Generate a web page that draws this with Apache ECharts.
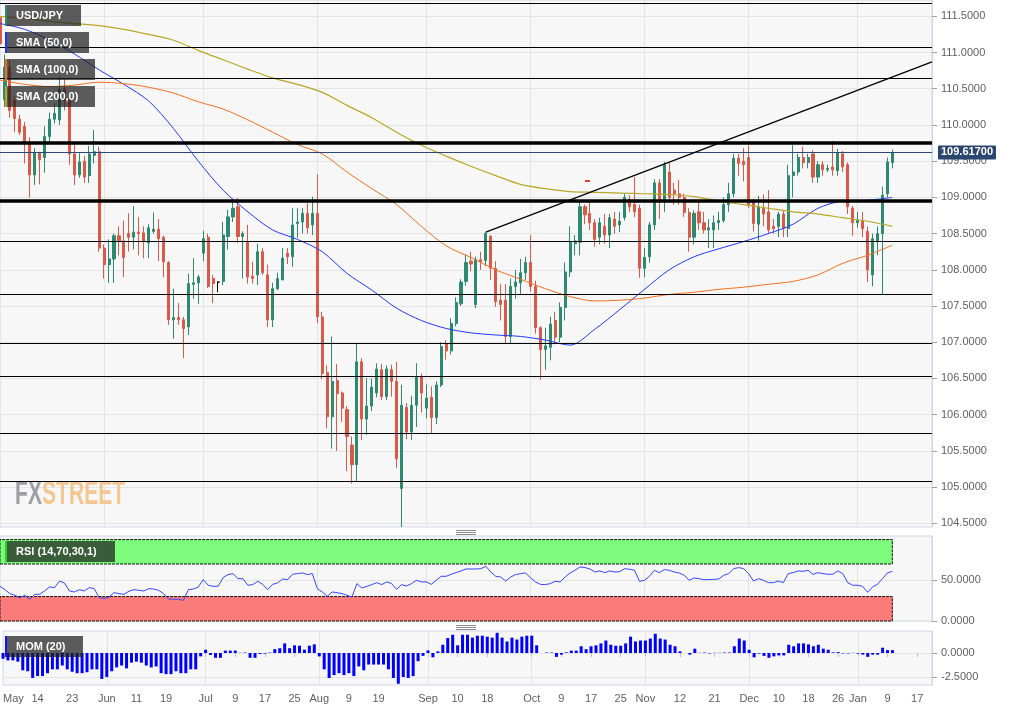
<!DOCTYPE html>
<html>
<head>
<meta charset="utf-8">
<script src="https://cdn.jsdelivr.net/npm/echarts@6/dist/echarts.min.js"></script>
<style>
html,body{margin:0;padding:0;background:#fff;}
#chart{width:1016px;height:711px;}
</style>
</head>
<body>
<div id="chart"></div>
<script>
// ---------- categories (trading days) ----------
const dates = [
'2019-05-03','2019-05-06','2019-05-07','2019-05-08','2019-05-09','2019-05-10','2019-05-13','2019-05-14','2019-05-15','2019-05-16','2019-05-17','2019-05-20','2019-05-21','2019-05-22','2019-05-23','2019-05-24','2019-05-27','2019-05-28','2019-05-29','2019-05-30','2019-05-31',
'2019-06-03','2019-06-04','2019-06-05','2019-06-06','2019-06-07','2019-06-10','2019-06-11','2019-06-12','2019-06-13','2019-06-14','2019-06-17','2019-06-18','2019-06-19','2019-06-20','2019-06-21','2019-06-24','2019-06-25','2019-06-26','2019-06-27','2019-06-28',
'2019-07-01','2019-07-02','2019-07-03','2019-07-04','2019-07-05','2019-07-08','2019-07-09','2019-07-10','2019-07-11','2019-07-12','2019-07-15','2019-07-16','2019-07-17','2019-07-18','2019-07-19','2019-07-22','2019-07-23','2019-07-24','2019-07-25','2019-07-26','2019-07-29','2019-07-30','2019-07-31',
'2019-08-01','2019-08-02','2019-08-05','2019-08-06','2019-08-07','2019-08-08','2019-08-09','2019-08-12','2019-08-13','2019-08-14','2019-08-15','2019-08-16','2019-08-19','2019-08-20','2019-08-21','2019-08-22','2019-08-23','2019-08-26','2019-08-27','2019-08-28','2019-08-29','2019-08-30',
'2019-09-02','2019-09-03','2019-09-04','2019-09-05','2019-09-06','2019-09-09','2019-09-10','2019-09-11','2019-09-12','2019-09-13','2019-09-16','2019-09-17','2019-09-18','2019-09-19','2019-09-20','2019-09-23','2019-09-24','2019-09-25','2019-09-26','2019-09-27','2019-09-30',
'2019-10-01','2019-10-02','2019-10-03','2019-10-04','2019-10-07','2019-10-08','2019-10-09','2019-10-10','2019-10-11','2019-10-14','2019-10-15','2019-10-16','2019-10-17','2019-10-18','2019-10-21','2019-10-22','2019-10-23','2019-10-24','2019-10-25','2019-10-28','2019-10-29','2019-10-30','2019-10-31',
'2019-11-01','2019-11-04','2019-11-05','2019-11-06','2019-11-07','2019-11-08','2019-11-11','2019-11-12','2019-11-13','2019-11-14','2019-11-15','2019-11-18','2019-11-19','2019-11-20','2019-11-21','2019-11-22','2019-11-25','2019-11-26','2019-11-27','2019-11-28','2019-11-29',
'2019-12-02','2019-12-03','2019-12-04','2019-12-05','2019-12-06','2019-12-09','2019-12-10','2019-12-11','2019-12-12','2019-12-13','2019-12-16','2019-12-17','2019-12-18','2019-12-19','2019-12-20','2019-12-23','2019-12-24','2019-12-25','2019-12-26','2019-12-27','2019-12-30','2019-12-31',
'2020-01-01','2020-01-02','2020-01-03','2020-01-06','2020-01-07','2020-01-08','2020-01-09','2020-01-10','2020-01-13','2020-01-14','2020-01-15','2020-01-16','2020-01-17','2020-01-20','2020-01-21','2020-01-22'
];
const tickDates = ['2019-05-03','2019-05-14','2019-05-23','2019-06-03','2019-06-11','2019-06-19','2019-07-01','2019-07-09','2019-07-17','2019-07-25','2019-08-01','2019-08-09','2019-08-19','2019-09-02','2019-09-10','2019-09-18','2019-10-01','2019-10-09','2019-10-17','2019-10-25','2019-11-01','2019-11-12','2019-11-21','2019-12-02','2019-12-10','2019-12-18','2019-12-26','2020-01-01','2020-01-09','2020-01-17'];
const tickTexts = ['May','14','23','Jun','11','19','Jul','9','17','25','Aug','9','19','Sep','10','18','Oct','9','17','25','Nov','12','21','Dec','10','18','26','Jan','9','17'];
const monthStarts = ['2019-06-03','2019-07-01','2019-08-01','2019-09-02','2019-10-01','2019-11-01','2019-12-02','2020-01-01'];

// ---------- USD/JPY daily candles [open, high, low, close] ----------
const ohlc = [
[111.48,111.68,111.0,111.12],[110.35,110.97,110.25,110.8],[110.8,110.9,110.1,110.2],[110.34,110.4,109.9,110.09],[110.08,110.14,109.86,109.9],
[109.98,110.04,109.47,109.76],[109.75,109.83,109.0,109.31],[109.31,109.68,109.17,109.62],[109.62,109.63,109.18,109.52],[109.55,109.98,109.34,109.84],
[109.84,110.17,109.73,110.08],[110.08,110.3,110.02,110.16],[110.07,110.67,110.0,110.49],[110.5,110.65,110.2,110.33],[110.34,110.38,109.45,109.6],
[109.6,109.75,109.17,109.31],[109.31,109.61,109.27,109.49],[109.5,109.57,109.2,109.28],[109.3,109.71,109.2,109.6],[109.58,109.93,109.47,109.63],
[109.63,109.7,108.25,108.3],[108.3,108.35,107.88,108.07],[108.07,108.42,107.82,108.15],[108.15,108.5,107.82,108.47],[108.47,108.6,108.2,108.4],
[108.4,108.68,107.9,108.17],[108.5,108.78,108.25,108.45],[108.45,108.88,108.28,108.52],[108.52,108.73,108.2,108.5],[108.51,108.6,108.16,108.39],
[108.37,108.63,108.16,108.58],[108.53,108.79,108.5,108.56],[108.56,108.7,108.12,108.43],[108.45,108.47,107.9,108.11],[108.1,108.12,107.24,107.31],
[107.31,107.74,107.05,107.34],[107.34,107.54,107.24,107.31],[107.31,107.35,106.78,107.19],[107.21,107.95,107.1,107.81],[107.8,108.16,107.6,107.82],
[107.82,107.93,107.53,107.9],[108.23,108.54,108.12,108.43],[108.45,108.5,107.75,107.77],[107.88,107.93,107.54,107.81],[107.83,107.84,107.69,107.83],
[107.84,108.66,107.79,108.48],[108.46,108.83,108.28,108.73],[108.73,108.96,108.66,108.85],[108.87,108.99,108.37,108.46],[108.46,108.53,107.88,108.5],
[108.39,108.62,107.81,107.9],[107.91,108.11,107.81,107.88],[107.93,108.36,107.79,108.25],[108.25,108.3,107.93,107.96],[107.93,108.07,107.21,107.31],
[107.31,107.82,107.21,107.74],[107.74,107.96,107.72,107.88],[107.86,108.3,107.86,108.16],[108.23,108.3,108.08,108.18],[108.18,108.85,108.04,108.62],
[108.64,108.85,108.44,108.66],[108.66,108.85,108.5,108.78],[108.78,108.92,108.5,108.58],[108.62,109.01,108.48,108.78],[108.78,109.32,107.26,107.35],
[107.35,107.42,106.49,106.57],[106.58,106.68,105.81,105.97],[105.97,107.08,105.53,106.46],[106.47,106.7,105.5,106.29],[106.3,106.32,105.9,106.09],
[106.07,106.12,105.22,105.7],[105.58,105.7,105.05,105.31],[105.31,106.99,105.07,106.73],[106.73,106.78,105.65,105.94],[105.94,106.5,105.72,106.12],
[106.12,106.5,106.05,106.38],[106.3,106.71,106.24,106.63],[106.62,106.7,106.2,106.25],[106.25,106.68,106.2,106.63],[106.62,106.69,106.25,106.46],
[106.46,106.73,105.26,105.39],[104.98,106.41,104.45,106.13],[106.1,106.16,105.66,105.76],[105.76,106.26,105.65,106.13],[106.13,106.71,105.83,106.52],
[106.52,106.57,106.03,106.3],[106.09,106.42,105.95,106.23],[106.24,106.39,105.74,105.96],[105.96,106.46,105.87,106.41],[106.41,107.0,106.38,106.94],
[106.98,107.03,106.76,106.88],[106.88,107.33,106.83,107.26],[107.26,107.62,107.22,107.55],[107.53,107.87,107.5,107.83],[107.84,108.21,107.78,108.1],
[108.12,108.25,107.98,108.08],[107.52,108.18,107.47,108.14],[108.14,108.25,108.0,108.11],[108.13,108.52,108.05,108.5],[108.46,108.48,107.86,108.02],
[108.02,108.12,107.49,107.56],[107.58,107.8,107.3,107.52],[107.58,107.8,106.98,107.08],[107.08,107.88,106.98,107.77],[107.77,108.0,107.6,107.83],
[107.82,108.15,107.65,107.96],[107.96,108.18,107.86,108.1],[108.1,108.48,107.7,107.77],[107.77,107.85,107.12,107.2],[107.2,107.22,106.48,106.9],
[106.9,107.2,106.62,106.95],[106.93,107.35,106.75,107.25],[107.3,107.42,106.97,107.07],[107.07,107.55,107.0,107.48],[107.48,108.1,107.3,107.97],
[107.97,108.6,107.9,108.38],[108.36,108.48,108.2,108.4],[108.38,108.95,108.2,108.87],[108.87,108.9,108.63,108.76],[108.78,108.94,108.55,108.65],
[108.65,108.7,108.32,108.42],[108.45,108.72,108.35,108.65],[108.6,108.77,108.36,108.48],[108.48,108.77,108.3,108.72],[108.7,108.8,108.5,108.6],
[108.62,108.8,108.52,108.67],[108.72,109.05,108.68,109.0],[108.97,109.03,108.8,108.87],[108.9,109.28,108.73,108.8],[108.85,108.9,107.89,108.02],
[108.02,108.3,107.9,108.17],[108.18,108.66,108.1,108.62],[108.62,109.25,108.55,109.2],[109.2,109.25,108.7,108.97],[108.97,109.49,108.8,109.45],
[109.35,109.48,108.93,109.0],[109.1,109.2,108.9,109.05],[109.05,109.24,108.9,109.0],[109.0,109.05,108.73,108.79],[108.79,108.85,108.25,108.45],
[108.45,108.82,108.35,108.78],[108.8,108.95,108.55,108.65],[108.65,108.8,108.5,108.55],[108.55,108.7,108.3,108.58],[108.55,108.75,108.3,108.65],
[108.65,108.8,108.55,108.68],[108.68,109.0,108.65,108.9],[108.9,109.2,108.8,109.05],[109.05,109.6,109.0,109.54],[109.54,109.6,109.3,109.47],
[109.5,109.68,109.22,109.45],[109.55,109.72,108.85,108.9],[108.95,108.98,108.53,108.64],[108.63,109.02,108.4,108.87],[108.85,109.04,108.6,108.77],
[108.8,109.1,108.5,108.55],[108.6,108.7,108.5,108.57],[108.6,108.8,108.45,108.77],[108.77,108.82,108.45,108.57],[108.57,109.45,108.45,109.3],
[109.3,109.72,109.0,109.35],[109.35,109.6,109.3,109.55],[109.55,109.7,109.4,109.48],[109.48,109.6,109.4,109.55],[109.6,109.65,109.2,109.28],
[109.28,109.5,109.2,109.45],[109.45,109.5,109.3,109.38],[109.38,109.45,109.35,109.4],[109.42,109.78,109.3,109.38],[109.37,109.67,109.3,109.62],
[109.6,109.64,109.35,109.42],[109.45,109.48,108.77,108.87],[108.85,108.88,108.47,108.65],[108.65,108.8,108.58,108.68],[108.68,108.8,108.45,108.57],
[108.53,108.6,107.83,108.0],[107.93,108.5,107.77,108.43],[108.4,108.6,108.2,108.5],[108.5,109.15,107.65,109.03],[109.05,109.55,109.0,109.49],
[109.48,109.66,109.4,109.617]
];

// ---------- moving averages: [candle index, value] ----------
const sma50Pts = [[0,111.4],[5,111.32],[10,111.17],[15,110.98],[20,110.76],[25,110.56],[30,110.33],[35,109.95],[40,109.5],[45,109.1],[50,108.8],[55,108.55],[60,108.42],[65,108.25],[70,107.95],[75,107.72],[80,107.47],[85,107.3],[90,107.19],[95,107.13],[100,107.1],[105,107.08],[110,107.03],[115,106.96],[120,107.18],[125,107.45],[130,107.73],[135,108.0],[140,108.18],[145,108.29],[150,108.39],[155,108.5],[160,108.63],[165,108.85],[170,108.95],[175,108.96],[180,109.0]];
const sma100Pts = [[0,110.62],[5,110.56],[10,110.53],[15,110.55],[20,110.59],[25,110.57],[30,110.52],[35,110.44],[40,110.32],[45,110.22],[50,110.07],[55,109.9],[60,109.73],[65,109.6],[70,109.35],[75,109.12],[80,108.9],[85,108.6],[90,108.33],[95,108.17],[100,108.0],[105,107.87],[110,107.74],[115,107.63],[120,107.57],[125,107.58],[130,107.61],[135,107.66],[140,107.69],[145,107.73],[150,107.76],[155,107.8],[160,107.84],[165,107.93],[170,108.09],[175,108.2],[180,108.34]];
const sma200Pts = [[0,111.5],[5,111.47],[10,111.43],[15,111.4],[20,111.37],[25,111.32],[30,111.25],[35,111.17],[40,111.03],[45,110.9],[50,110.77],[55,110.65],[60,110.56],[65,110.45],[70,110.27],[75,110.1],[80,109.9],[85,109.72],[90,109.57],[95,109.43],[100,109.3],[105,109.18],[110,109.12],[115,109.08],[120,109.07],[125,109.06],[130,109.05],[135,109.04],[140,109.01],[145,108.95],[150,108.9],[155,108.85],[160,108.8],[165,108.77],[170,108.72],[175,108.67],[180,108.6]];

// ---------- RSI(14) ----------
const rsi = [
42.6,38.5,33.6,31.6,28.3,31.6,26.7,32.8,32.8,36.9,
41.8,41,49,46.7,36.9,35.6,38.5,36.9,41,39.8,
28.7,27.5,29.5,34.9,33.6,32.8,36.5,38.5,37.7,36.9,
39.8,39.3,37.7,33.6,27,26.7,26.7,25.4,38.5,39.3,
41.8,50.8,43.9,42.6,42.6,53.3,57,58.2,52,52,
43.9,44.7,48.8,45,38.5,45,46.7,51.6,50.8,57.4,
58.2,59,57,58.2,39.8,35.6,30.3,35.6,34.8,33.6,
31.6,29.5,45.9,40.5,42.6,44.7,47.1,44.7,48,45.9,
38.9,44.7,43,45.9,50,48,48,45,50,54.9,
54.9,57.4,59.4,61.5,63.9,63.9,63.9,64.3,67.2,60.2,
54.9,54.1,49.1,54,57,58.2,59,53.3,48,45,
44.7,45.9,48.8,48,54.1,59,62.3,66.4,65.6,63.9,
60.2,61.5,59.4,61.5,60.2,60.6,64.3,63.5,62.3,48.8,
50,54.9,62.3,59.4,63.1,62.3,60.2,59,56.2,50,
52.9,52,50.8,50.8,51.2,51.6,56.2,58.2,64.3,65.6,
64.3,58.2,49.1,52,50,47.1,47.1,49.1,47.1,58.2,
59.4,61.5,61,62.3,57.4,59.4,58.2,57.4,57.4,61.5,
58.2,47.1,43.9,43.9,42.6,35.2,41.8,45,52,59,
61];

// ---------- Momentum(20) ----------
const mom = [
-0.6,-0.77,-0.77,-0.9,-1.8,-1.9,-2.6,-2.4,-2.4,-2.1,
-1.7,-1.7,-1.3,-1.7,-1.95,-2.1,-2.1,-2.0,-1.7,-1.7,
-2.7,-2.5,-1.9,-1.5,-1.3,-1.6,-1.0,-0.9,-1.0,-1.3,
-1.5,-1.4,-2.1,-2.2,-2.2,-1.9,-2.1,-2.1,-1.7,-1.7,
-0.35,0.34,-0.2,-0.5,-0.5,0.25,0.25,0.25,0.02,0.05,
-0.5,-0.5,-0.1,-0.07,0.05,0.4,0.5,1.0,0.5,0.8,
0.76,0.35,0.76,0.9,-0.35,-1.7,-2.6,-2.3,-2.1,-2.3,
-2.1,-2.4,-1.4,-1.8,-1.2,-1.2,-1.2,-1.2,-1.7,-2.6,
-3.2,-2.5,-2.6,-2.4,-0.85,-0.3,0.27,-0.45,0.17,0.86,
1.56,1.9,0.8,1.9,1.9,1.6,1.8,1.8,1.7,1.6,
2.1,1.6,1.2,1.6,1.4,1.7,1.8,1.8,0.8,0.0,
0.05,0.05,-0.4,-0.17,0.07,0.25,0.25,0.7,0.4,0.7,
0.8,1.0,1.3,0.86,0.76,0.76,1.0,1.7,1.2,1.3,
1.3,1.5,2.0,1.5,1.4,0.86,0.7,0.17,0.0,-0.17,
0.45,0.02,0.05,-0.05,0.02,0.02,0.05,0.05,0.7,1.5,
1.3,0.34,-0.45,-0.07,-0.3,-0.5,-0.35,-0.25,-0.25,0.86,
0.7,1.0,1.0,0.9,0.7,0.86,0.45,0.34,0.07,0.1,
-0.05,-0.05,0.02,-0.07,-0.17,-0.4,-0.17,-0.17,0.55,0.3,
0.3];

// ---------- drawn levels ----------
const thinLevels = [111.68, 111.07, 110.64, 108.39, 107.66, 106.985, 106.53, 105.747, 105.08];
const thickLevels = [109.755, 108.946];
const lastPrice = 109.617;
const trendStart = ['2019-09-18', 108.52];
const trendEnd = ['2020-01-22', 110.87];
const priceTicks = [104.5,105,105.5,106,106.5,107,107.5,108,108.5,109,109.5,110,110.5,111,111.5];
const rsiTicks = [0, 50];
const momTicks = [-2.5, 0];
const legendLabels = ['USD/JPY','SMA (50,0)','SMA (100,0)','SMA (200,0)'];

// ---------- build ----------
const FONT = 'Liberation Sans, Arial, Helvetica, sans-serif';
const UP = '#2e8a6e', DOWN = '#d95a49';
const tickSet = new Set(tickDates);
const tickMap = {}; tickDates.forEach((d,i)=>tickMap[d]=tickTexts[i]);
const monthSet = new Set(monthStarts);

const candleData = ohlc.map(([o,h,l,c]) => o === c
  ? {value:[o,c,l,h], itemStyle:{color:'#000',color0:'#000',borderColor:'#000',borderColor0:'#000'}}
  : [o,c,l,h]);
const toLine = pts => pts.map(([k,v]) => [dates[k], v]);
const lastIdx = ohlc.length - 1;

const chart = echarts.init(document.getElementById('chart'), null, {renderer:'canvas'});

const xBase = (gi, showLabels) => ({
  type:'category', gridIndex:gi, data:dates, boundaryGap:false,
  axisLine:{show:false},
  axisTick: showLabels ? {show:true, length:4, interval:(i,v)=>tickSet.has(v), lineStyle:{color:'#b8c2d6'}} : {show:false},
  axisLabel: showLabels ? {show:true, interval:(i,v)=>tickSet.has(v), formatter:v=>tickMap[v]||'', color:'#606060', fontSize:11, fontFamily:FONT, margin:8, alignMinLabel:'left'} : {show:false},
  splitLine:{show:true, interval:(i,v)=>monthSet.has(v), lineStyle:{color:'#e4e4e4', width:1}}
});
const yBase = (gi, min, max, ticks) => ({
  type:'value', gridIndex:gi, position:'right', min, max,
  axisLine:{show:true, lineStyle:{color:'#ccd6eb'}},
  axisTick:{show:true, length:5, customValues:ticks, lineStyle:{color:'#a0a0a0'}},
  axisLabel:{show:true, customValues:ticks, formatter:v=>v.toFixed(4), color:'#606060', fontSize:11, fontFamily:FONT, margin:9},
  splitLine:{show:true, lineStyle:{color:'#e4e4e4', width:1}}
});

const lvlLines = [];
thinLevels.forEach(v => lvlLines.push({yAxis:v, lineStyle:{color:'#000', width:1.2, type:'solid'}}));
thickLevels.forEach(v => lvlLines.push({yAxis:v, lineStyle:{color:'#000', width:3.5, type:'solid'}}));
lvlLines.push({yAxis:lastPrice, lineStyle:{color:'#2b4770', width:1, type:'solid'},
  label:{show:true, position:'end', distance:6, formatter:()=>lastPrice.toFixed(5), color:'#fff', fontWeight:'bold', fontSize:11, fontFamily:FONT,
         backgroundColor:'#2b4770', padding:[2,3,1,3], borderRadius:1}});
lvlLines.push([{coord:trendStart, lineStyle:{color:'#000', width:1.2, type:'solid'}}, {coord:trendEnd}]);
lvlLines.push([{coord:[117.6, 109.225], lineStyle:{color:'#e0402a', width:2, type:'solid'}}, {coord:[118.6, 109.225]}]);

// legend boxes (graphic, real text)
const legendColors = ['#2e8a6e','#1d35ff','#f26e1e','#b5a51e'];
const legendWidths = [76, 84, 90, 90];
const graphics = [];
const box = (x, y, w, label, stripe) => {
  graphics.push({type:'rect', x:x, y:y, z:100, zlevel:1, shape:{x:0,y:0,width:w,height:21}, style:{fill:'rgba(30,30,30,0.72)'}});
  graphics.push({type:'rect', x:x, y:y, z:101, zlevel:1, shape:{x:0,y:0,width:2,height:21}, style:{fill:stripe}});
  graphics.push({type:'text', x:x+11, y:y+11, z:102, zlevel:1, style:{text:label, fill:'#fff', font:'bold 11px '+FONT, verticalAlign:'middle'}});
};
legendLabels.forEach((t,i) => box(5, 5 + i*27, legendWidths[i], t, legendColors[i]));
box(5, 541, 110, 'RSI (14,70,30,1)', '#22d622');
box(5, 636, 78, 'MOM (20)', '#1010ff');
// panel resize handles
[530, 625].forEach(y0 => {
  [0,2,4].forEach(d => graphics.push({type:'rect', x:456, y:y0+d, z:100, zlevel:1, shape:{x:0,y:0,width:20,height:1}, style:{fill:'#8a8a8a'}}));
});
// watermark
graphics.push({type:'text', x:15, y:478, z:1, scaleX:0.62, style:{text:'FX', fill:'rgba(140,144,150,0.85)', font:'bold 34px '+FONT}});
graphics.push({type:'text', x:42, y:478, z:1, scaleX:0.62, style:{text:'STREET', fill:'rgba(242,190,125,0.85)', font:'bold 34px '+FONT}});

const option = {
  animation:false,
  backgroundColor:'#ffffff',
  textStyle:{fontFamily:FONT},
  grid:[
    {left:0, right:84, top:0, height:527, show:true, backgroundColor:'#f7f7f7', borderColor:'#ccd6eb', borderWidth:1},
    {left:0, right:84, top:536, height:85, show:true, backgroundColor:'#f7f7f7', borderColor:'#ccd6eb', borderWidth:1},
    {left:0, right:84, top:631, height:54, show:true, backgroundColor:'#f7f7f7', borderColor:'#ccd6eb', borderWidth:1}
  ],
  xAxis:[xBase(0,false), xBase(1,false), xBase(2,true)],
  yAxis:[
    yBase(0, 104.449, 111.725, priceTicks),
    yBase(1, 0, 104.4, rsiTicks),
    yBase(2, -3.33, 2.29, momTicks)
  ],
  graphic:{elements:graphics},
  series:[
    {name:'USD/JPY', type:'candlestick', xAxisIndex:0, yAxisIndex:0, data:candleData, barWidth:2.6, z:3,
     itemStyle:{color:UP, color0:DOWN, borderColor:UP, borderColor0:DOWN, borderWidth:1, borderColorDoji:'#000'},
     markLine:{silent:true, symbol:['none','none'], animation:false, label:{show:false}, emphasis:{disabled:true}, data:lvlLines}},
    {name:'SMA (50,0)', type:'line', xAxisIndex:0, yAxisIndex:0, data:toLine(sma50Pts), smooth:0.3, showSymbol:false, z:4,
     lineStyle:{color:'#2238ff', width:1}},
    {name:'SMA (100,0)', type:'line', xAxisIndex:0, yAxisIndex:0, data:toLine(sma100Pts), smooth:0.3, showSymbol:false, z:4,
     lineStyle:{color:'#f0701e', width:1}},
    {name:'SMA (200,0)', type:'line', xAxisIndex:0, yAxisIndex:0, data:toLine(sma200Pts), smooth:0.3, showSymbol:false, z:4,
     lineStyle:{color:'#b8a82a', width:1.2}},
    {name:'RSI', type:'line', xAxisIndex:1, yAxisIndex:1, data:rsi, showSymbol:false, z:4,
     lineStyle:{color:'#3347ff', width:1},
     markArea:{silent:true, z:1, data:[
       [{xAxis:dates[0], yAxis:70, itemStyle:{color:'#7dfc7d', borderColor:'#111', borderWidth:1, borderType:[3,1]}}, {xAxis:dates[lastIdx], yAxis:100}],
       [{xAxis:dates[0], yAxis:0, itemStyle:{color:'#fc7b7b', borderColor:'#111', borderWidth:1, borderType:[3,1]}}, {xAxis:dates[lastIdx], yAxis:30}]
     ]}},
    {name:'MOM', type:'bar', xAxisIndex:2, yAxisIndex:2, data:mom, barWidth:3, z:3,
     itemStyle:{color:'#0000ff'}}
  ]
};
chart.setOption(option);
</script>
</body>
</html>
